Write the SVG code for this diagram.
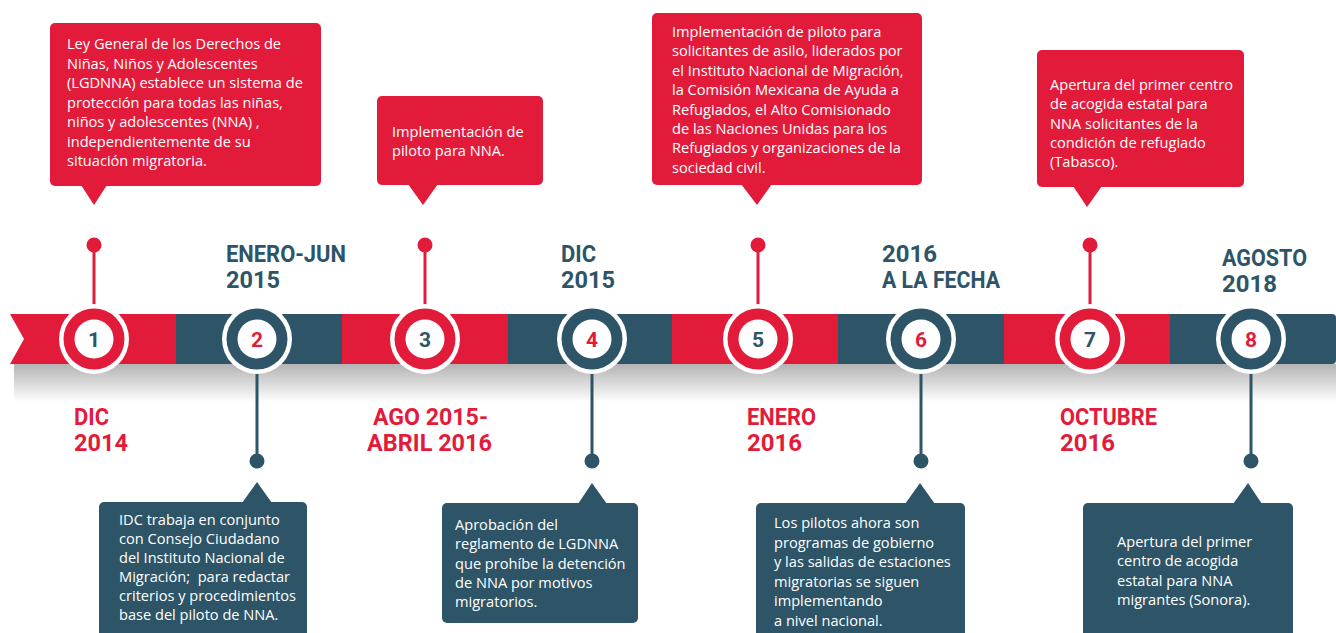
<svg xmlns="http://www.w3.org/2000/svg" width="1336" height="633" viewBox="0 0 1336 633">
<defs>
<linearGradient id="shadow" x1="0" y1="0" x2="0" y2="1">
<stop offset="0" stop-color="#b3b3b3"/>
<stop offset="1" stop-color="#ffffff"/>
</linearGradient>
</defs>
<style>
.red{fill:#e31b3b}
.teal{fill:#2d5567}
.body{font-family:"Open Sans","Liberation Sans",sans-serif;font-size:14.6px;fill:#ffffff}
.date{font-family:Roboto,"Liberation Sans",sans-serif;font-weight:700;font-size:23.5px}
.num{font-family:Roboto,"Liberation Sans",sans-serif;font-weight:700;font-size:21px;text-anchor:middle}
.ring{fill:#ffffff}
.stemR{stroke:#e31b3b;stroke-width:3}
.stemT{stroke:#2d5567;stroke-width:3}
</style>
<rect width="1336" height="633" fill="#ffffff"/>
<g id="band">
<rect x="14" y="364" width="1322" height="38" fill="url(#shadow)"/>
<polygon class="red" points="10,314 176,314 176,364 10,364 24,339"/>
<rect class="teal" x="176" y="314" width="166" height="50"/>
<rect class="red" x="342" y="314" width="166" height="50"/>
<rect class="teal" x="508" y="314" width="164" height="50"/>
<rect class="red" x="672" y="314" width="166" height="50"/>
<rect class="teal" x="838" y="314" width="166" height="50"/>
<rect class="red" x="1004" y="314" width="166" height="50"/>
<path class="teal" d="M1170,314 H1332 Q1336,314 1336,318 V360 Q1336,364 1332,364 H1170 Z"/>
</g>
<g id="connectors">
<line class="stemR" x1="94" y1="245" x2="94" y2="306"/><circle class="red" cx="94" cy="245" r="7.5"/>
<line class="stemT" x1="257" y1="372" x2="257" y2="461"/><circle class="teal" cx="257" cy="461" r="7.5"/>
<line class="stemR" x1="425" y1="245" x2="425" y2="306"/><circle class="red" cx="425" cy="245" r="7.5"/>
<line class="stemT" x1="592" y1="372" x2="592" y2="461"/><circle class="teal" cx="592" cy="461" r="7.5"/>
<line class="stemR" x1="758" y1="245" x2="758" y2="306"/><circle class="red" cx="758" cy="245" r="7.5"/>
<line class="stemT" x1="921" y1="372" x2="921" y2="461"/><circle class="teal" cx="921" cy="461" r="7.5"/>
<line class="stemR" x1="1090" y1="245" x2="1090" y2="306"/><circle class="red" cx="1090" cy="245" r="7.5"/>
<line class="stemT" x1="1251" y1="372" x2="1251" y2="461"/><circle class="teal" cx="1251" cy="461" r="7.5"/>
</g>
<g id="node-1">
<circle class="ring" cx="94" cy="339" r="35"/><circle class="red" cx="94" cy="339" r="30.5"/><circle class="ring" cx="94" cy="339" r="19.5"/>
<text class="num teal" x="94" y="347">1</text>
<text class="date red"><tspan x="74" y="425" textLength="35" lengthAdjust="spacingAndGlyphs">DIC</tspan><tspan x="74" y="451" textLength="54" lengthAdjust="spacingAndGlyphs">2014</tspan></text>
<rect class="red" x="50" y="23" width="271" height="163" rx="5"/>
<polygon class="red" points="81,185 107,185 94,205"/>
<text class="body"><tspan x="67" y="49">Ley General de los Derechos de</tspan><tspan x="67" y="68.5">Niñas, Niños y Adolescentes</tspan><tspan x="67" y="88">(LGDNNA) establece un sistema de</tspan><tspan x="67" y="107.5">protección para todas las niñas,</tspan><tspan x="67" y="127">niños y adolescentes (NNA) ,</tspan><tspan x="67" y="146.5">independientemente de su</tspan><tspan x="67" y="166">situación migratoria.</tspan></text>
</g>
<g id="node-2">
<circle class="ring" cx="257" cy="339" r="35"/><circle class="teal" cx="257" cy="339" r="30.5"/><circle class="ring" cx="257" cy="339" r="19.5"/>
<text class="num red" x="257" y="347">2</text>
<text class="date teal"><tspan x="226" y="262" textLength="120" lengthAdjust="spacingAndGlyphs">ENERO-JUN</tspan><tspan x="226" y="288" textLength="54" lengthAdjust="spacingAndGlyphs">2015</tspan></text>
<rect class="teal" x="99" y="502" width="208" height="140" rx="5"/>
<polygon class="teal" points="242,503 272,503 257,482"/>
<text class="body" xml:space="preserve"><tspan x="119" y="525">IDC trabaja en conjunto</tspan><tspan x="119" y="544">con Consejo Ciudadano</tspan><tspan x="119" y="563">del Instituto Nacional de</tspan><tspan x="119" y="582">Migración;  para redactar</tspan><tspan x="119" y="601">criterios y procedimientos</tspan><tspan x="119" y="620">base del piloto de NNA.</tspan></text>
</g>
<g id="node-3">
<circle class="ring" cx="425" cy="339" r="35"/><circle class="red" cx="425" cy="339" r="30.5"/><circle class="ring" cx="425" cy="339" r="19.5"/>
<text class="num teal" x="425" y="347">3</text>
<text class="date red"><tspan x="373" y="425" textLength="115" lengthAdjust="spacingAndGlyphs">AGO 2015-</tspan><tspan x="367" y="451" textLength="125" lengthAdjust="spacingAndGlyphs">ABRIL 2016</tspan></text>
<rect class="red" x="377" y="96" width="166" height="89" rx="5"/>
<polygon class="red" points="408,184 438,184 423,205"/>
<text class="body"><tspan x="392" y="137">Implementación de</tspan><tspan x="392" y="156">piloto para NNA.</tspan></text>
</g>
<g id="node-4">
<circle class="ring" cx="592" cy="339" r="35"/><circle class="teal" cx="592" cy="339" r="30.5"/><circle class="ring" cx="592" cy="339" r="19.5"/>
<text class="num red" x="592" y="347">4</text>
<text class="date teal"><tspan x="561" y="262" textLength="35" lengthAdjust="spacingAndGlyphs">DIC</tspan><tspan x="561" y="288" textLength="54" lengthAdjust="spacingAndGlyphs">2015</tspan></text>
<rect class="teal" x="442" y="503" width="196" height="120" rx="5"/>
<polygon class="teal" points="578,504 607,504 592,483"/>
<text class="body"><tspan x="455" y="530">Aprobación del</tspan><tspan x="455" y="549.25">reglamento de LGDNNA</tspan><tspan x="455" y="568.5">que prohíbe la detención</tspan><tspan x="455" y="587.75">de NNA por motivos</tspan><tspan x="455" y="607">migratorios.</tspan></text>
</g>
<g id="node-5">
<circle class="ring" cx="758" cy="339" r="35"/><circle class="red" cx="758" cy="339" r="30.5"/><circle class="ring" cx="758" cy="339" r="19.5"/>
<text class="num teal" x="758" y="347">5</text>
<text class="date red"><tspan x="747" y="425" textLength="69" lengthAdjust="spacingAndGlyphs">ENERO</tspan><tspan x="747" y="451" textLength="55" lengthAdjust="spacingAndGlyphs">2016</tspan></text>
<rect class="red" x="652" y="13" width="270" height="172" rx="5"/>
<polygon class="red" points="741,184 772,184 757,205"/>
<text class="body"><tspan x="672" y="37">Implementación de piloto para</tspan><tspan x="672" y="56.4">solicitantes de asilo, liderados por</tspan><tspan x="672" y="75.8">el Instituto Nacional de Migración,</tspan><tspan x="672" y="95.2">la Comisión Mexicana de Ayuda a</tspan><tspan x="672" y="114.6">Refugiados, el Alto Comisionado</tspan><tspan x="672" y="134">de las Naciones Unidas para los</tspan><tspan x="672" y="153.4">Refugiados y organizaciones de la</tspan><tspan x="672" y="172.8">sociedad civil.</tspan></text>
</g>
<g id="node-6">
<circle class="ring" cx="921" cy="339" r="35"/><circle class="teal" cx="921" cy="339" r="30.5"/><circle class="ring" cx="921" cy="339" r="19.5"/>
<text class="num red" x="921" y="347">6</text>
<text class="date teal"><tspan x="882" y="262" textLength="55" lengthAdjust="spacingAndGlyphs">2016</tspan><tspan x="882" y="288" textLength="118" lengthAdjust="spacingAndGlyphs">A LA FECHA</tspan></text>
<rect class="teal" x="756" y="503" width="209" height="140" rx="5"/>
<polygon class="teal" points="905,504 935,504 920,483"/>
<text class="body"><tspan x="774" y="528">Los pilotos ahora son</tspan><tspan x="774" y="547.5">programas de gobierno</tspan><tspan x="774" y="567">y las salidas de estaciones</tspan><tspan x="774" y="586.5">migratorias se siguen</tspan><tspan x="774" y="606">implementando</tspan><tspan x="774" y="625.5">a nivel nacional.</tspan></text>
</g>
<g id="node-7">
<circle class="ring" cx="1090" cy="339" r="35"/><circle class="red" cx="1090" cy="339" r="30.5"/><circle class="ring" cx="1090" cy="339" r="19.5"/>
<text class="num teal" x="1090" y="347">7</text>
<text class="date red"><tspan x="1060" y="425" textLength="97" lengthAdjust="spacingAndGlyphs">OCTUBRE</tspan><tspan x="1060" y="451" textLength="55" lengthAdjust="spacingAndGlyphs">2016</tspan></text>
<rect class="red" x="1037" y="50" width="207" height="137" rx="5"/>
<polygon class="red" points="1073,186 1102,186 1087,207"/>
<text class="body"><tspan x="1050" y="90">Apertura del primer centro</tspan><tspan x="1050" y="109.25">de acogida estatal para</tspan><tspan x="1050" y="128.5">NNA solicitantes de la</tspan><tspan x="1050" y="147.75">condición de refugiado</tspan><tspan x="1050" y="167">(Tabasco).</tspan></text>
</g>
<g id="node-8">
<circle class="ring" cx="1251" cy="339" r="35"/><circle class="teal" cx="1251" cy="339" r="30.5"/><circle class="ring" cx="1251" cy="339" r="19.5"/>
<text class="num red" x="1251" y="347">8</text>
<text class="date teal"><tspan x="1222" y="266" textLength="85" lengthAdjust="spacingAndGlyphs">AGOSTO</tspan><tspan x="1222" y="292" textLength="55" lengthAdjust="spacingAndGlyphs">2018</tspan></text>
<rect class="teal" x="1083" y="503" width="210" height="140" rx="5"/>
<polygon class="teal" points="1233,504 1262,504 1248,483"/>
<text class="body"><tspan x="1117" y="547">Apertura del primer</tspan><tspan x="1117" y="566.3">centro de acogida</tspan><tspan x="1117" y="585.6">estatal para NNA</tspan><tspan x="1117" y="605">migrantes (Sonora).</tspan></text>
</g>
</svg>
